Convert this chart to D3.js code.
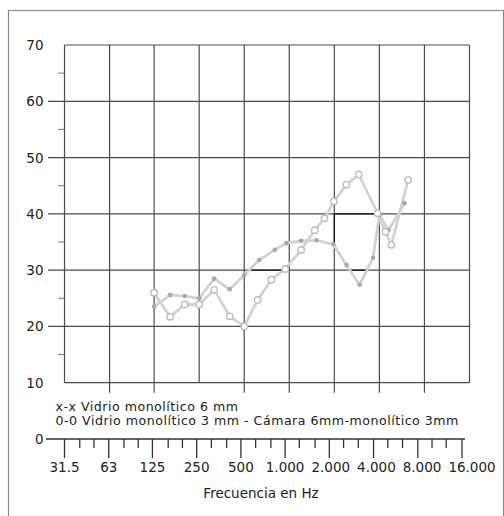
<!DOCTYPE html>
<html>
<head>
<meta charset="utf-8">
<script src="https://cdn.jsdelivr.net/npm/d3@7"></script>
<style>
  html, body { margin: 0; padding: 0; background: #fff; }
  svg { display: block; }
  text { font-family: "DejaVu Sans", Verdana, sans-serif; fill: #222; }
</style>
</head>
<body>
<svg id="chart" width="504" height="516"></svg>
<script>
// Octave bands shown on the frequency axis
const octaveFreqs = [31.5, 63, 125, 250, 500, 1000, 2000, 4000, 8000, 16000];
const octaveLabels = ["31.5", "63", "125", "250", "500", "1.000", "2.000", "4.000", "8.000", "16.000"];
// Third-octave bands between the octaves (small ticks)
const thirdOctaveFreqs = [40, 50, 80, 100, 160, 200, 315, 400, 630, 800, 1250, 1600,
                          2500, 3150, 5000, 6300, 10000, 12500];
// Sound insulation level (dB)
const levelTicks = [0, 10, 20, 30, 40, 50, 60, 70];
const levelMinor = [15, 25, 35, 45, 55, 65];

// x-x  Vidrio monolítico 6 mm
const freqMono6 = [125, 160, 200, 250, 315, 400, 500, 630, 800, 955, 1200, 1520,
                   1970, 2410, 2950, 3630, 4000, 4600, 5900];
const levelMono6 = [23.5, 25.6, 25.4, 25.0, 28.5, 26.6, 29.1, 31.8, 33.6, 34.8, 35.2, 35.3,
                    34.6, 30.9, 27.4, 32.2, 39.8, 37.1, 41.9];

// 0-0  Vidrio monolítico 3 mm - Cámara 6mm - monolítico 3mm
const freqCamara = [125, 160, 200, 250, 315, 400, 500, 615, 760, 940, 1200, 1480,
                    1720, 1985, 2410, 2910, 3890, 4390, 4810, 6220];
const levelCamara = [26.0, 21.7, 23.9, 23.9, 26.5, 21.8, 20.0, 24.7, 28.3, 30.2, 33.6, 37.1,
                     39.2, 42.2, 45.2, 47.0, 40.1, 36.8, 34.5, 46.0];

// Darker retraced grid segments: [f1, v1, f2, v2]
const darkSegments = [
  [2000, 40, 4000, 40],
  [2000, 40, 2000, 34.5],
  [530, 30, 900, 30],
  [2500, 30, 3300, 30]
];

const legendLines = [
  "x-x Vidrio monolítico 6 mm",
  "0-0 Vidrio monolítico 3 mm - Cámara 6mm-monolítico 3mm"
];
const axisTitle = "Frecuencia en Hz";

const svg = d3.select("#chart");

// Scales: the plot grid and the lower frequency ruler have slightly different spacing
const xGrid = d3.scaleLog().domain([31.5, 16000]).range([64.5, 469.5]);
const xRuler = d3.scaleLog().domain([31.5, 16000]).range([64.5, 462]);
const y = d3.scaleLinear().domain([0, 70]).range([439, 45]);

// Outer frame
svg.append("rect")
  .attr("x", 8.5).attr("y", 10.5)
  .attr("width", 495).attr("height", 520)
  .attr("fill", "none").attr("stroke", "#8a8a8a").attr("stroke-width", 1.2);

const grid = svg.append("g").attr("stroke", "#4a4a4a").attr("stroke-width", 1.2).attr("fill", "none");
const yTop = y(70), yBot = y(10);
const xL = xGrid(31.5), xR = xGrid(16000);

// Horizontal grid lines (with tick stubs on the left for 20..60)
grid.selectAll("line.h").data(levelTicks.filter(v => v >= 10)).join("line")
  .attr("x1", v => (v === 10 || v === 70) ? xL : 48)
  .attr("x2", xR)
  .attr("y1", v => y(v)).attr("y2", v => y(v));

// Minor level ticks
svg.append("g").attr("stroke", "#777").attr("stroke-width", 1)
  .selectAll("line").data(levelMinor).join("line")
  .attr("x1", 58).attr("x2", xL)
  .attr("y1", v => y(v)).attr("y2", v => y(v));

// Vertical grid lines; interior ones run slightly below the plot
grid.selectAll("line.v").data(octaveFreqs).join("line")
  .attr("x1", f => xGrid(f)).attr("x2", f => xGrid(f))
  .attr("y1", yTop)
  .attr("y2", (f, i) => (i === 0 || i === octaveFreqs.length - 1 || f === 250) ? yBot : yBot + 10);

// Darker retraced segments
svg.append("g").attr("stroke", "#111").attr("stroke-width", 1.3)
  .selectAll("line").data(darkSegments).join("line")
  .attr("x1", d => xGrid(d[0])).attr("y1", d => y(d[1]))
  .attr("x2", d => xGrid(d[2])).attr("y2", d => y(d[3]));

// Level labels
svg.append("g").selectAll("text").data(levelTicks).join("text")
  .attr("x", 43.5).attr("y", v => y(v))
  .attr("text-anchor", "end").attr("dominant-baseline", "central")
  .attr("font-size", 13.5)
  .text(d => d);

// Frequency ruler at level 0
const ruler = svg.append("g");
ruler.append("line")
  .attr("x1", 46).attr("x2", 465)
  .attr("y1", y(0)).attr("y2", y(0))
  .attr("stroke", "#333").attr("stroke-width", 1.3);
ruler.selectAll("line.major").data(octaveFreqs).join("line")
  .attr("x1", f => xRuler(f)).attr("x2", f => xRuler(f))
  .attr("y1", y(0)).attr("y2", y(0) + 19)
  .attr("stroke", "#333").attr("stroke-width", 1.3);
ruler.selectAll("line.minor").data(thirdOctaveFreqs).join("line")
  .attr("x1", f => xRuler(f)).attr("x2", f => xRuler(f))
  .attr("y1", y(0)).attr("y2", y(0) + 9)
  .attr("stroke", "#333").attr("stroke-width", 1.3);

// Octave labels: centred under their ticks, pushed right if they would collide
const tickText = ruler.selectAll("text").data(octaveFreqs).join("text")
  .attr("y", 471.5)
  .attr("text-anchor", "start").attr("font-size", 13.5)
  .text((f, i) => octaveLabels[i]);
let prevEnd = -Infinity;
const minGap = 7;
tickText.each(function (f) {
  const w = this.getComputedTextLength();
  let x0 = xRuler(f) - w / 2;
  if (x0 < prevEnd + minGap) x0 = prevEnd + minGap;
  d3.select(this).attr("x", x0);
  prevEnd = x0 + w;
});

svg.append("text")
  .attr("x", 261).attr("y", 497.5)
  .attr("text-anchor", "middle").attr("font-size", 13.5)
  .text(axisTitle);

// Legend
svg.append("g").selectAll("text").data(legendLines).join("text")
  .attr("x", 55.5).attr("y", (d, i) => 410.5 + i * 14.5)
  .attr("font-size", 12.6)
  .attr("letter-spacing", 0.5)
  .text(d => d);

// Series
const line = d3.line().x(d => xGrid(d[0])).y(d => y(d[1]));
const seriesCamara = freqCamara.map((f, i) => [f, levelCamara[i]]);
const seriesMono6 = freqMono6.map((f, i) => [f, levelMono6[i]]);

svg.append("path").datum(seriesMono6)
  .attr("d", line).attr("fill", "none")
  .attr("stroke", "#d2d2d2").attr("stroke-width", 2.8).attr("stroke-linejoin", "round");
svg.append("path").datum(seriesCamara)
  .attr("d", line).attr("fill", "none")
  .attr("stroke", "#d2d2d2").attr("stroke-width", 2.8).attr("stroke-linejoin", "round");

svg.append("g").selectAll("circle").data(seriesMono6).join("circle")
  .attr("cx", d => xGrid(d[0])).attr("cy", d => y(d[1]))
  .attr("r", 2.3).attr("fill", "#a8a8a8");

svg.append("g").selectAll("circle").data(seriesCamara).join("circle")
  .attr("cx", d => xGrid(d[0])).attr("cy", d => y(d[1]))
  .attr("r", 3.2).attr("fill", "#fff")
  .attr("stroke", "#bdbdbd").attr("stroke-width", 1.4);
</script>
</body>
</html>
